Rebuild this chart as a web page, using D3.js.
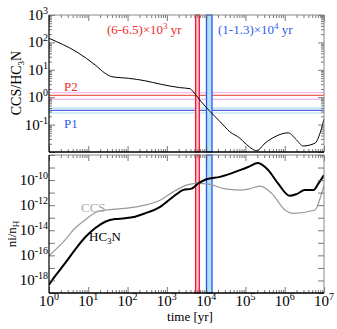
<!DOCTYPE html>
<html>
<head>
<meta charset="utf-8">
<script src="https://cdn.jsdelivr.net/npm/d3@7"></script>
<style>
  body { margin: 0; background: #fff; }
  svg text { font-family: "Liberation Serif", "Times New Roman", "DejaVu Serif", serif !important; }
</style>
</head>
<body>
<svg id="chart" width="337" height="329" font-family="Liberation Serif, serif"></svg>
<script>
// ratio CCS/HC3N vs time (yr)
const ratioTime = [1, 5.5, 15, 27, 40, 105, 275, 680, 2100, 3900, 4700, 6900, 12600, 22400, 40000, 72000, 98000, 195000, 316000, 562000, 1.23e6, 2e6, 2.95e6, 5.9e6, 7.9e6, 1e7];
const ratioValue = [141, 41.7, 15, 7.4, 5.6, 4.9, 4.0, 3.0, 2.24, 2.04, 1.58, 0.79, 0.30, 0.13, 0.055, 0.032, 0.021, 0.0112, 0.021, 0.036, 0.05, 0.0275, 0.0166, 0.021, 0.048, 0.16];

// abundances ni/nH
const hc3nTime = [1, 1.41, 2.57, 4.57, 8.32, 14.8, 26.9, 47.9, 85.1, 155, 275, 676, 1450, 2570, 4270, 6310, 10200, 22400, 72400, 117000, 209000, 380000, 676000, 1.35e6, 2e6, 3.24e6, 5.37e6, 7.24e6, 1e7];
const hc3nValue = [4.6e-19, 2.1e-18, 2.4e-17, 2.75e-16, 2.75e-15, 1.45e-14, 4.8e-14, 7.9e-14, 8.9e-14, 1.2e-13, 2.2e-13, 7.4e-13, 4.7e-12, 1.6e-11, 2.1e-11, 5.4e-11, 1.17e-10, 1.8e-10, 6.2e-10, 1.1e-9, 2.3e-9, 6.2e-10, 5.4e-11, 5.6e-12, 7.6e-12, 1.6e-11, 1.6e-11, 5.4e-11, 2.5e-10];
const ccsTime = [1, 2.57, 4.57, 8.32, 14.8, 26.9, 85.1, 275, 676, 1450, 3160, 5750, 12600, 27500, 72400, 117000, 234000, 468000, 1.02e6, 1.66e6, 5.89e6, 7.94e6, 1e7];
const ccsValue = [9.1e-17, 1.7e-15, 1.45e-14, 6.6e-14, 2.5e-13, 4.1e-13, 5.5e-13, 1.02e-12, 2.5e-12, 1.15e-11, 4e-11, 5.4e-11, 4.5e-11, 2.1e-11, 1.6e-11, 1.9e-11, 3.3e-11, 8.7e-12, 4.1e-13, 2.2e-13, 4.1e-13, 3.4e-12, 4e-11];

// observed ratio bands (P2, P1): [low, mid, high]
const p2Band = [0.84, 1.17, 1.46];
const p1Band = [0.265, 0.33, 0.40];

// time windows
const redWindow = [5400, 6700];
const blueWindow = [10200, 14100];

const svg = d3.select("svg#chart");
const left = 49, right = 324;
const top1 = 15, bottom1 = 152;
const top2 = 155, bottom2 = 293;

const x = d3.scaleLog([1, 1e7], [left, right]);
const yRatio = d3.scaleLog([1e-2, 1e3], [bottom1, top1]);
const yAbund = d3.scaleLog([1e-19, 1e-8], [bottom2, top2]);

const minorTicks = (lo, hi) => {
	const out = [];
	for (let e = lo; e < hi; e++) for (let m = 2; m < 10; m++) out.push(m * Math.pow(10, e));
	return out;
};
const majorTicks = (lo, hi, step = 1) => d3.range(lo, hi + 1, step).map((e) => Math.pow(10, e));

const clip = svg.append("defs");
clip.append("clipPath").attr("id", "c1").append("rect")
	.attr("x", left).attr("y", top1).attr("width", right - left).attr("height", bottom1 - top1);
clip.append("clipPath").attr("id", "c2").append("rect")
	.attr("x", left).attr("y", top2).attr("width", right - left).attr("height", bottom2 - top2);

// horizontal bands in the top panel
const bandColors = [
	{ vals: p2Band, outer: "#e9a6ec", mid: "#e8644f" },
	{ vals: p1Band, outer: "#a9def0", mid: "#4a66e6" },
];
bandColors.forEach((b) => {
	svg.append("g").selectAll("line").data(b.vals).enter().append("line")
		.attr("x1", left).attr("x2", right)
		.attr("y1", (d) => yRatio(d)).attr("y2", (d) => yRatio(d))
		.attr("stroke", (d, i) => (i === 1 ? b.mid : b.outer))
		.attr("stroke-width", 1.1);
});

// time windows in both panels
[[top1, bottom1], [top2, bottom2]].forEach(([t, b]) => {
	svg.append("rect")
		.attr("x", x(redWindow[0])).attr("width", x(redWindow[1]) - x(redWindow[0]))
		.attr("y", t).attr("height", b - t)
		.attr("fill", "#f8c4d4").attr("stroke", "#ee1c2e").attr("stroke-width", 1.3);
	svg.append("rect")
		.attr("x", x(blueWindow[0])).attr("width", x(blueWindow[1]) - x(blueWindow[0]))
		.attr("y", t).attr("height", b - t)
		.attr("fill", "#b4e2f2").attr("stroke", "#2a55f0").attr("stroke-width", 1.3);
});

// curves
const ratioLine = d3.line().x((d) => x(d[0])).y((d) => yRatio(d[1])).curve(d3.curveMonotoneX);
const abundLine = d3.line().x((d) => x(d[0])).y((d) => yAbund(d[1])).curve(d3.curveMonotoneX);

svg.append("path")
	.datum(d3.zip(ratioTime, ratioValue))
	.attr("clip-path", "url(#c1)")
	.attr("d", ratioLine).attr("fill", "none").attr("stroke", "#000").attr("stroke-width", 1);

svg.append("path")
	.datum(d3.zip(ccsTime, ccsValue))
	.attr("clip-path", "url(#c2)")
	.attr("d", abundLine).attr("fill", "none").attr("stroke", "#999").attr("stroke-width", 1.2);

svg.append("path")
	.datum(d3.zip(hc3nTime, hc3nValue))
	.attr("clip-path", "url(#c2)")
	.attr("d", abundLine).attr("fill", "none").attr("stroke", "#000").attr("stroke-width", 2);

// axes: ticks pointing inwards on all four sides
const drawAxes = (y, t, b, yMajor, yMinor) => {
	const g = svg.append("g").attr("class", "axes");
	[[d3.axisBottom, b], [d3.axisTop, t]].forEach(([ax, pos]) => {
		g.append("g").attr("transform", `translate(0,${pos})`)
			.call(ax(x).tickValues(minorTicks(0, 7)).tickSize(-3).tickFormat(""));
		g.append("g").attr("transform", `translate(0,${pos})`)
			.call(ax(x).tickValues(majorTicks(0, 7)).tickSize(-6).tickFormat(""));
	});
	[[d3.axisLeft, left], [d3.axisRight, right]].forEach(([ax, pos]) => {
		if (yMinor.length)
			g.append("g").attr("transform", `translate(${pos},0)`)
				.call(ax(y).tickValues(yMinor).tickSize(-3).tickFormat(""));
		g.append("g").attr("transform", `translate(${pos},0)`)
			.call(ax(y).tickValues(yMajor).tickSize(-6).tickFormat(""));
	});
	g.selectAll(".domain").remove();
	g.selectAll("line").attr("stroke", "#555").attr("stroke-width", 0.8);
	// frame
	g.append("line").attr("x1", left).attr("x2", right).attr("y1", t).attr("y2", t).attr("stroke", "#888");
	g.append("line").attr("x1", right).attr("x2", right).attr("y1", t).attr("y2", b).attr("stroke", "#888");
	g.append("line").attr("x1", left).attr("x2", left).attr("y1", t).attr("y2", b).attr("stroke", "#000").attr("stroke-width", 1.2);
	g.append("line").attr("x1", left).attr("x2", right).attr("y1", b).attr("y2", b).attr("stroke", "#000").attr("stroke-width", 1.5);
};
drawAxes(yRatio, top1, bottom1, majorTicks(-2, 3), minorTicks(-2, 3));
drawAxes(yAbund, top2, bottom2, majorTicks(-19, -8), []);

// power-of-ten labels
const powLabel = (sel, exp) => {
	sel.append("tspan").text("10");
	sel.append("tspan").attr("dy", -6).attr("font-size", 10).text(exp);
};

const xLabelExps = d3.range(0, 8);
xLabelExps.forEach((e) => {
	svg.append("text").attr("x", x(Math.pow(10, e))).attr("y", 306)
		.attr("text-anchor", "middle").attr("font-size", 15)
		.call(powLabel, e);
});

const ratioLabelExps = [3, 2, 1, 0, -1];
ratioLabelExps.forEach((e) => {
	svg.append("text").attr("x", left - 1).attr("y", yRatio(Math.pow(10, e)) + 5)
		.attr("text-anchor", "end").attr("font-size", 15)
		.call(powLabel, e);
});

const abundLabelExps = [-10, -12, -14, -16, -18];
abundLabelExps.forEach((e) => {
	svg.append("text").attr("x", left - 1).attr("y", yAbund(Math.pow(10, e)) + 5)
		.attr("text-anchor", "end").attr("font-size", 15)
		.call(powLabel, e);
});

// axis titles
svg.append("text").attr("x", 190).attr("y", 321).attr("text-anchor", "middle")
	.attr("font-size", 13).text("time [yr]");

const t1 = svg.append("text").attr("transform", `translate(21,83) rotate(-90)`)
	.attr("text-anchor", "middle").attr("font-size", 14);
t1.append("tspan").text("CCS/HC");
t1.append("tspan").attr("font-size", 9).attr("dy", 3).text("3");
t1.append("tspan").attr("dy", -3).text("N");

const t2 = svg.append("text").attr("transform", `translate(16,234) rotate(-90)`)
	.attr("text-anchor", "middle").attr("font-size", 13);
t2.append("tspan").text("ni/n");
t2.append("tspan").attr("font-size", 9).attr("dy", 3).text("H");

// annotations
svg.append("text").attr("x", 107).attr("y", 34).attr("fill", "#ee2a2a").attr("font-size", 13)
	.call((s) => {
		s.append("tspan").text("(6-6.5)×10");
		s.append("tspan").attr("dy", -5).attr("font-size", 9).text("3");
		s.append("tspan").attr("dy", 5).text(" yr");
	});
svg.append("text").attr("x", 218).attr("y", 34).attr("fill", "#2f5ee8").attr("font-size", 13)
	.call((s) => {
		s.append("tspan").text("(1-1.3)×10");
		s.append("tspan").attr("dy", -5).attr("font-size", 9).text("4");
		s.append("tspan").attr("dy", 5).text(" yr");
	});
svg.append("text").attr("x", 64).attr("y", 91).attr("fill", "#ee2a2a").attr("font-size", 13).text("P2");
svg.append("text").attr("x", 64).attr("y", 128).attr("fill", "#2f5ee8").attr("font-size", 13).text("P1");

svg.append("text").attr("x", 81).attr("y", 212).attr("fill", "#aaa").attr("font-size", 13).text("CCS");
const hl = svg.append("text").attr("x", 89).attr("y", 241).attr("fill", "#000").attr("font-size", 13);
hl.append("tspan").text("HC");
hl.append("tspan").attr("font-size", 9).attr("dy", 3).text("3");
hl.append("tspan").attr("dy", -3).text("N");
</script>
</body>
</html>
